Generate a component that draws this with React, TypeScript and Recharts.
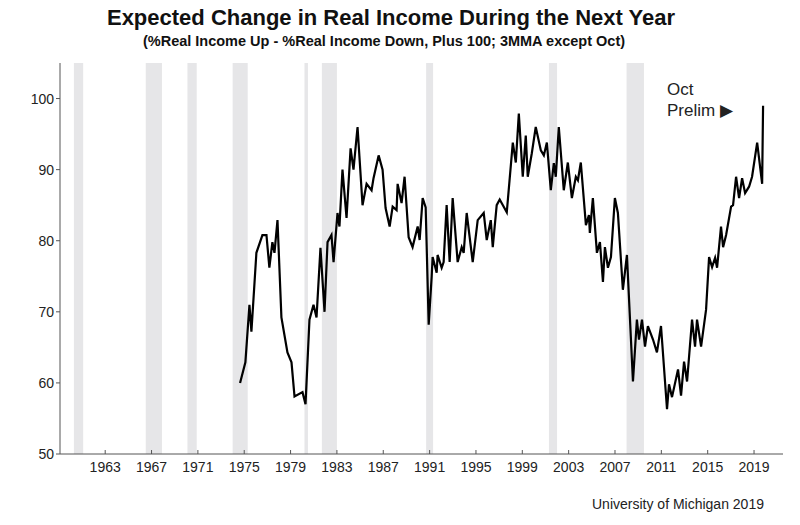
import { LineChart, Line, XAxis, YAxis, ReferenceArea } from "recharts"

const years = [
  1974.64, 1975.1, 1975.45, 1975.62, 1976.05, 1976.57, 1976.92, 1977.17, 1977.43, 1977.61,
  1977.87, 1978.21, 1978.73, 1979.08, 1979.34, 1980.03, 1980.29, 1980.63, 1980.98, 1981.24,
  1981.58, 1981.93, 1982.19, 1982.53, 1982.71, 1983.05, 1983.22, 1983.48, 1983.83, 1984.18,
  1984.43, 1984.78, 1985.21, 1985.56, 1985.99, 1986.16, 1986.6, 1986.94, 1987.2, 1987.55,
  1987.81, 1988.15, 1988.24, 1988.58, 1988.84, 1989.19, 1989.53, 1989.97, 1990.14, 1990.4,
  1990.66, 1990.92, 1991.18, 1991.26, 1991.61, 1991.69, 1992.04, 1992.21, 1992.47, 1992.73,
  1992.99, 1993.42, 1993.77, 1993.94, 1994.2, 1994.72, 1995.15, 1995.67, 1995.93, 1996.28,
  1996.45, 1996.79, 1997.05, 1997.66, 1998.18, 1998.44, 1998.7, 1999.04, 1999.3, 1999.47,
  1999.82, 2000.16, 2000.6, 2000.86, 2001.12, 2001.46, 2001.72, 2001.89, 2002.15, 2002.58,
  2002.93, 2003.28, 2003.62, 2003.8, 2004.05, 2004.49, 2004.75, 2004.83, 2005.09, 2005.44,
  2005.7, 2005.96, 2006.13, 2006.39, 2006.65, 2006.99, 2007.25, 2007.68, 2008.03, 2008.55,
  2008.89, 2009.07, 2009.33, 2009.59, 2009.84, 2010.28, 2010.62, 2010.97, 2011.49, 2011.66,
  2011.92, 2012.44, 2012.7, 2012.96, 2013.22, 2013.65, 2013.91, 2014.08, 2014.43, 2014.86,
  2015.12, 2015.38, 2015.64, 2015.81, 2016.15, 2016.33, 2016.59, 2017.02, 2017.19, 2017.45,
  2017.71, 2017.97, 2018.23, 2018.57, 2018.83, 2019.27, 2019.7, 2019.78,
]

const values = [
  60, 62.9, 71, 67.2, 78.3, 80.8, 80.8, 76.2, 79.8, 78.3,
  82.9, 69.2, 64.3, 62.9, 58.1, 58.7, 57, 68.9, 71, 69.2,
  79, 70, 79.8, 80.8, 77, 83.9, 82, 90, 83.2, 93,
  90, 96, 85, 88, 87.1, 88.8, 92, 90, 84.6, 82,
  84.8, 84.3, 88, 85.3, 89, 80.5, 79.1, 82, 80.1, 86,
  84.7, 68.2, 75, 77.7, 75.5, 78, 76.2, 77, 85, 77,
  86, 77, 79.1, 78.3, 83.9, 77, 82.9, 83.9, 80.1, 82.9,
  79.1, 85, 85.8, 84, 93.8, 91, 97.9, 89, 94.8, 89,
  92.3, 96, 92.7, 92, 93.8, 87.1, 90.9, 89, 96, 87.1,
  91, 86, 89, 88.5, 91, 82.2, 83.6, 81.1, 86, 78.3,
  79.8, 74.2, 79.1, 76.2, 77.7, 86, 83.9, 73.1, 78, 60.2,
  68.9, 66.1, 68.9, 65.1, 68, 66.1, 64.3, 68, 56.3, 59.8,
  58, 61.9, 58.2, 63, 60.2, 68.9, 65.1, 68.9, 65.1, 70.3,
  77.7, 76.3, 77.6, 76.2, 82, 79.1, 80.8, 84.8, 85, 89,
  86, 88.8, 86.7, 87.6, 89, 93.8, 88, 99,
]

const recessionStart = [1960.3, 1966.5, 1970.1, 1974.0, 1980.2, 1981.7, 1990.7, 2001.3, 2008.0]
const recessionEnd = [1961.1, 1967.9, 1970.9, 1975.3, 1980.5, 1983.0, 1991.3, 2002.0, 2009.5]

const xTicks = [1963, 1967, 1971, 1975, 1979, 1983, 1987, 1991, 1995, 1999, 2003, 2007, 2011, 2015, 2019]
const yTicks = [50, 60, 70, 80, 90, 100]

const data = years.map((year, i) => ({ year, value: values[i] }))

const font = "'Liberation Sans', Arial, sans-serif"

export default function App() {
  return (
    <div style={{ position: "absolute", left: 0, top: 0, width: 800, height: 525, background: "#fff", fontFamily: font }}>
      <div style={{ position: "absolute", top: 5, left: 0, width: 782, textAlign: "center", fontWeight: "bold", fontSize: 22, color: "#111" }}>
        Expected Change in Real Income During the Next Year
      </div>
      <div style={{ position: "absolute", top: 33, left: 0, width: 768, textAlign: "center", fontWeight: "bold", fontSize: 14.5, color: "#111" }}>
        (%Real Income Up - %Real Income Down, Plus 100; 3MMA except Oct)
      </div>
      <LineChart width={800} height={525} data={data} margin={{ top: 63, right: 17, bottom: 41, left: 20 }}>
        {recessionStart.map((s, i) => (
          <ReferenceArea key={i} x1={s} x2={recessionEnd[i]} fill="#e6e6e8" fillOpacity={1} stroke="none" />
        ))}
        <XAxis
          dataKey="year"
          type="number"
          domain={[1959.1, 2021.5]}
          ticks={xTicks}
          allowDataOverflow
          tickSize={-4}
          tickMargin={12}
          stroke="#555"
          tick={{ fill: "#222", fontSize: 14, fontFamily: font }}
          height={30}
        />
        <XAxis xAxisId="top" orientation="top" dataKey="year" type="number" domain={[1959.1, 2021.5]} tick={false} tickLine={false} stroke="#555" height={0} />
        <YAxis
          domain={[50, 105]}
          ticks={yTicks}
          allowDataOverflow
          tickSize={4}
          stroke="#555"
          tick={{ fill: "#222", fontSize: 14, fontFamily: font }}
          width={40}
        />
        <YAxis yAxisId="right" orientation="right" domain={[50, 105]} tick={false} tickLine={false} stroke="#555" width={0} />
        <Line dataKey="value" stroke="#000" strokeWidth={2.2} dot={false} isAnimationActive={false} />
      </LineChart>
      <div style={{ position: "absolute", left: 667, top: 79, fontSize: 17, lineHeight: "21px", color: "#222" }}>
        Oct<br />Prelim ▶
      </div>
      <div style={{ position: "absolute", left: 592, top: 496, fontSize: 14, color: "#222" }}>
        University of Michigan 2019
      </div>
    </div>
  )
}
